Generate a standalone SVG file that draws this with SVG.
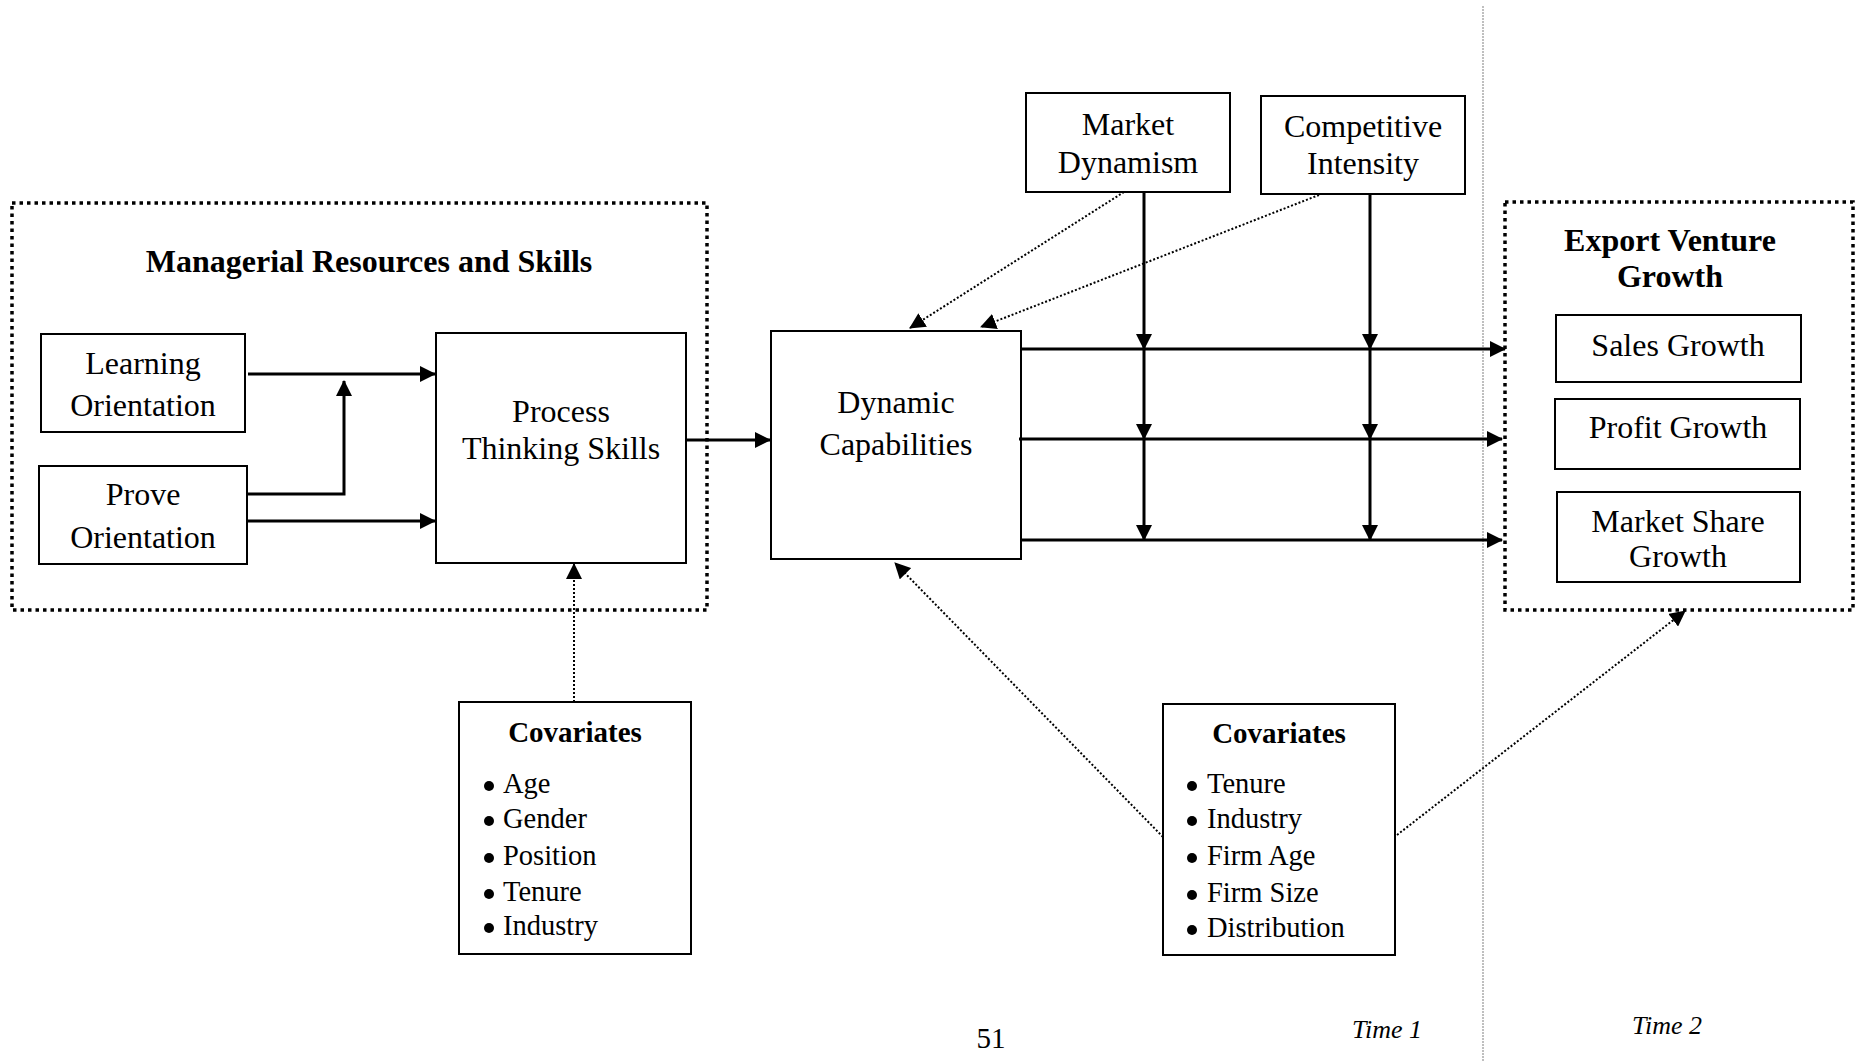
<svg xmlns="http://www.w3.org/2000/svg" width="1858" height="1061" viewBox="0 0 1858 1061">
<style>
text{font-family:"Liberation Serif","Times New Roman",serif;fill:#000}
.t{font-size:32px;text-anchor:middle}
.b{font-size:32px;font-weight:bold;text-anchor:middle}
.cv{font-size:29px;font-weight:bold;text-anchor:middle}
.li{font-size:28.5px}
.it{font-size:26px;font-style:italic;text-anchor:middle}
.box{fill:#fff;stroke:#000;stroke-width:2}
.grp{fill:none;stroke:#000;stroke-width:3.5;stroke-dasharray:3.5 4}
.sol{fill:none;stroke:#000;stroke-width:3}
.dot{fill:none;stroke:#000;stroke-width:2;stroke-dasharray:2 2}
</style>
<defs>
<marker id="ah" markerWidth="16" markerHeight="16" refX="15" refY="8" orient="auto" markerUnits="userSpaceOnUse"><path d="M0,0 L16,8 L0,16 z" fill="#000"/></marker>
</defs>
<line x1="1483" y1="6" x2="1483" y2="1061" stroke="#aaa" stroke-width="1.5" stroke-dasharray="2 1"/>
<g id="managerial-group">
<rect class="grp" x="12" y="203" width="695" height="407"/>
<text class="b" x="369" y="272">Managerial Resources and Skills</text>
</g>
<g id="export-group">
<rect class="grp" x="1505" y="202" width="348" height="408"/>
<text class="b" x="1670" y="251">Export Venture</text>
<text class="b" x="1670" y="287">Growth</text>
</g>
<g id="learning">
<rect class="box" x="41" y="334" width="204" height="98"/>
<text class="t" x="143" y="374">Learning</text>
<text class="t" x="143" y="416">Orientation</text>
</g>
<g id="prove">
<rect class="box" x="39" y="466" width="208" height="98"/>
<text class="t" x="143" y="505">Prove</text>
<text class="t" x="143" y="548">Orientation</text>
</g>
<g id="process">
<rect class="box" x="436" y="333" width="250" height="230"/>
<text class="t" x="561" y="422">Process</text>
<text class="t" x="561" y="459">Thinking Skills</text>
</g>
<g id="dynamic">
<rect class="box" x="771" y="331" width="250" height="228"/>
<text class="t" x="896" y="413">Dynamic</text>
<text class="t" x="896" y="455">Capabilities</text>
</g>
<g id="market-dynamism">
<rect class="box" x="1026" y="93" width="204" height="99"/>
<text class="t" x="1128" y="135">Market</text>
<text class="t" x="1128" y="173">Dynamism</text>
</g>
<g id="competitive-intensity">
<rect class="box" x="1261" y="96" width="204" height="98"/>
<text class="t" x="1363" y="137">Competitive</text>
<text class="t" x="1363" y="174">Intensity</text>
</g>
<g id="sales-growth">
<rect class="box" x="1556" y="315" width="245" height="67"/>
<text class="t" x="1678" y="356">Sales Growth</text>
</g>
<g id="profit-growth">
<rect class="box" x="1555" y="399" width="245" height="70"/>
<text class="t" x="1678" y="438">Profit Growth</text>
</g>
<g id="market-share-growth">
<rect class="box" x="1557" y="492" width="243" height="90"/>
<text class="t" x="1678" y="532">Market Share</text>
<text class="t" x="1678" y="567">Growth</text>
</g>
<g id="covariates-1">
<rect class="box" x="459" y="702" width="232" height="252"/>
<text class="cv" x="575" y="742">Covariates</text>
<circle cx="489" cy="786" r="5"/><text class="li" x="503" y="793">Age</text>
<circle cx="489" cy="821" r="5"/><text class="li" x="503" y="828">Gender</text>
<circle cx="489" cy="858" r="5"/><text class="li" x="503" y="865">Position</text>
<circle cx="489" cy="894" r="5"/><text class="li" x="503" y="901">Tenure</text>
<circle cx="489" cy="928" r="5"/><text class="li" x="503" y="935">Industry</text>
</g>
<g id="covariates-2">
<rect class="box" x="1163" y="704" width="232" height="251"/>
<text class="cv" x="1279" y="743">Covariates</text>
<circle cx="1192" cy="786" r="5"/><text class="li" x="1207" y="793">Tenure</text>
<circle cx="1192" cy="821" r="5"/><text class="li" x="1207" y="828">Industry</text>
<circle cx="1192" cy="858" r="5"/><text class="li" x="1207" y="865">Firm Age</text>
<circle cx="1192" cy="895" r="5"/><text class="li" x="1207" y="902">Firm Size</text>
<circle cx="1192" cy="930" r="5"/><text class="li" x="1207" y="937">Distribution</text>
</g>
<g id="connectors">
<line class="sol" x1="248" y1="374" x2="435" y2="374" marker-end="url(#ah)"/>
<line class="sol" x1="248" y1="521" x2="435" y2="521" marker-end="url(#ah)"/>
<polyline class="sol" points="248,494 344,494 344,381" marker-end="url(#ah)"/>
<line class="sol" x1="686" y1="440" x2="770" y2="440" marker-end="url(#ah)"/>
<line class="sol" x1="1021" y1="349" x2="1505" y2="349" marker-end="url(#ah)"/>
<line class="sol" x1="1019" y1="439" x2="1502" y2="439" marker-end="url(#ah)"/>
<line class="sol" x1="1021" y1="540" x2="1502" y2="540" marker-end="url(#ah)"/>
<line class="sol" x1="1144" y1="192" x2="1144" y2="349" marker-end="url(#ah)"/>
<line class="sol" x1="1144" y1="349" x2="1144" y2="439" marker-end="url(#ah)"/>
<line class="sol" x1="1144" y1="439" x2="1144" y2="540" marker-end="url(#ah)"/>
<line class="sol" x1="1370" y1="194" x2="1370" y2="349" marker-end="url(#ah)"/>
<line class="sol" x1="1370" y1="349" x2="1370" y2="439" marker-end="url(#ah)"/>
<line class="sol" x1="1370" y1="439" x2="1370" y2="540" marker-end="url(#ah)"/>
<line class="dot" x1="1124" y1="192" x2="910" y2="328" marker-end="url(#ah)"/>
<line class="dot" x1="1319" y1="195" x2="981" y2="327" marker-end="url(#ah)"/>
<line class="dot" x1="1163" y1="837" x2="895" y2="563" marker-end="url(#ah)"/>
<line class="dot" x1="1397" y1="835" x2="1685" y2="611" marker-end="url(#ah)"/>
<line class="dot" x1="574" y1="702" x2="574" y2="564" marker-end="url(#ah)"/>
</g>
<text x="991" y="1048" font-size="29" text-anchor="middle">51</text>
<text class="it" x="1387" y="1038">Time 1</text>
<text class="it" x="1667" y="1034">Time 2</text>
</svg>
